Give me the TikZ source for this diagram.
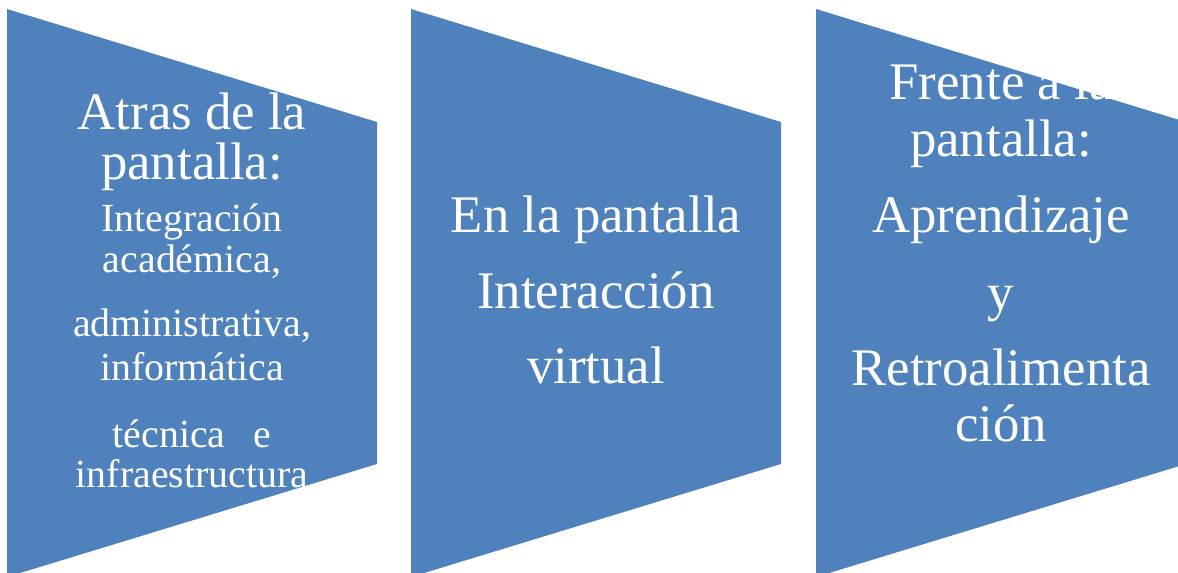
\documentclass[tikz,border=0pt]{standalone}
\usepackage{fontspec}
\setmainfont{Liberation Serif}
\definecolor{panelblue}{HTML}{4F81BD}
\begin{document}
\begin{tikzpicture}[x=1bp,y=-1bp,
  panel/.style={fill=panelblue},
  bigtext/.style={text=white,font=\fontsize{53}{53}\selectfont,anchor=base,inner sep=0pt},
  smalltext/.style={text=white,font=\fontsize{40}{40}\selectfont,anchor=base,inner sep=0pt}]
\useasboundingbox (0,0) rectangle (1178,573);
\clip (0,0) rectangle (1178,573);
% panels
\foreach \dx in {0,404,809}
  \fill[panel] (7+\dx,9) -- (377+\dx,122) -- (377+\dx,464) -- (7+\dx,577) -- cycle;
% panel 1
\node[bigtext]   (a1) at (192,130) {Atras de la};
\node[bigtext]   (a2) at (192,180) {pantalla:};
\node[smalltext] (a3) at (192,232) {Integración};
\node[smalltext] (a4) at (192,273) {académica,};
\node[smalltext] (a5) at (192,337) {administrativa,};
\node[smalltext] (a6) at (192,380) {informática};
\node[smalltext] (a7) at (192,447) {técnica\hspace{28bp}e};
\node[smalltext] (a8) at (192,487) {infraestructura};
% panel 2
\node[bigtext] (b1) at (596,233) {En la pantalla};
\node[bigtext] (b2) at (596,309) {Interacción};
\node[bigtext] (b3) at (596,383) {virtual};
% panel 3
\node[bigtext] (c1) at (1001,100) {Frente a la};
\node[bigtext] (c2) at (1001,157) {pantalla:};
\node[bigtext] (c3) at (1001,233) {Aprendizaje};
\node[bigtext] (c4) at (1001,311) {y};
\node[bigtext] (c5) at (1001,385) {Retroalimenta};
\node[bigtext] (c6) at (1001,441) {ción};
\end{tikzpicture}
\end{document}
